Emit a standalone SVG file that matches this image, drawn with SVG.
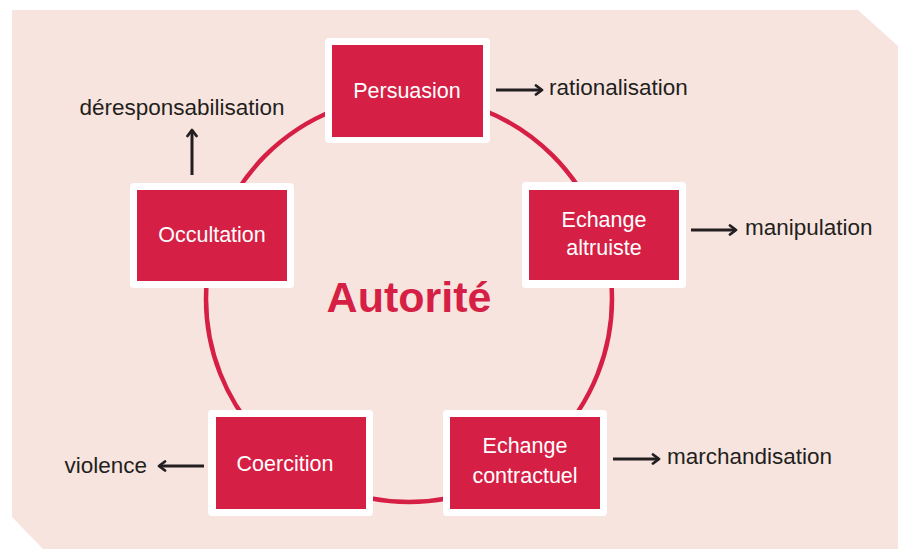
<svg xmlns="http://www.w3.org/2000/svg" width="898" height="549" viewBox="0 0 898 549">
  <style>
    .panel { fill: #f8e4df; }
    .ring { fill: none; stroke: #d61f45; stroke-width: 4.5; }
    .frame { fill: #ffffff; }
    .box { fill: #d61f45; }
    .ntext { font-family: "Liberation Sans", Arial, sans-serif; font-size: 21.5px; fill: #ffffff; text-anchor: middle; }
    .label { font-family: "Liberation Sans", Arial, sans-serif; font-size: 22.5px; fill: #231f20; }
    .title { font-family: "Liberation Sans", Arial, sans-serif; font-size: 43px; font-weight: bold; fill: #d61f45; text-anchor: middle; }
    .arrow { stroke: #231f20; stroke-width: 3; fill: none; marker-end: url(#head); }
  </style>
  <defs>
    <marker id="head" viewBox="0 0 12 12" refX="10" refY="6" markerWidth="12" markerHeight="12" markerUnits="userSpaceOnUse" orient="auto">
      <polyline points="4,1.5 10,6 4,10.5" fill="none" stroke="#231f20" stroke-width="2.8" stroke-linecap="round" stroke-linejoin="round"/>
    </marker>
  </defs>

  <!-- background panel with clipped corners -->
  <polygon class="panel" points="12,10 858,10 898,46 898,549 43,549 12,517"/>

  <!-- cycle ring -->
  <circle class="ring" cx="409" cy="299" r="203"/>

  <text class="title" x="409" y="312">Autorité</text>

  <!-- connectors -->
  <g id="connectors">
    <line class="arrow" x1="496" y1="90" x2="542" y2="90"/>
    <line class="arrow" x1="691" y1="230" x2="736" y2="230"/>
    <line class="arrow" x1="613" y1="459" x2="659" y2="459"/>
    <line class="arrow" x1="204" y1="466" x2="159" y2="466"/>
    <line class="arrow" x1="192" y1="175" x2="192" y2="130"/>
  </g>

  <g id="persuasion">
    <rect class="frame" x="325" y="38" width="165" height="105" rx="4"/>
    <rect class="box" x="332" y="45" width="151" height="92"/>
    <text class="ntext" x="407" y="98">Persuasion</text>
  </g>

  <g id="echange-altruiste">
    <rect class="frame" x="522" y="182" width="164" height="106" rx="4"/>
    <rect class="box" x="529" y="190" width="150" height="90"/>
    <text class="ntext" x="604" y="227">Echange</text>
    <text class="ntext" x="604" y="255">altruiste</text>
  </g>

  <g id="echange-contractuel">
    <rect class="frame" x="443" y="410" width="164" height="106" rx="4"/>
    <rect class="box" x="450" y="417" width="150" height="92"/>
    <text class="ntext" x="525" y="453">Echange</text>
    <text class="ntext" x="525" y="483">contractuel</text>
  </g>

  <g id="coercition">
    <rect class="frame" x="208" y="410" width="165" height="106" rx="4"/>
    <rect class="box" x="216" y="417" width="150" height="92"/>
    <text class="ntext" x="285" y="471">Coercition</text>
  </g>

  <g id="occultation">
    <rect class="frame" x="130" y="183" width="164" height="105" rx="4"/>
    <rect class="box" x="137" y="190" width="150" height="91"/>
    <text class="ntext" x="212" y="242">Occultation</text>
  </g>

  <!-- outcome labels -->
  <g id="labels">
    <text class="label" x="549" y="95">rationalisation</text>
    <text class="label" x="745" y="235">manipulation</text>
    <text class="label" x="667" y="464">marchandisation</text>
    <text class="label" x="147" y="473" text-anchor="end">violence</text>
    <text class="label" x="182" y="115" text-anchor="middle">déresponsabilisation</text>
  </g>
</svg>
